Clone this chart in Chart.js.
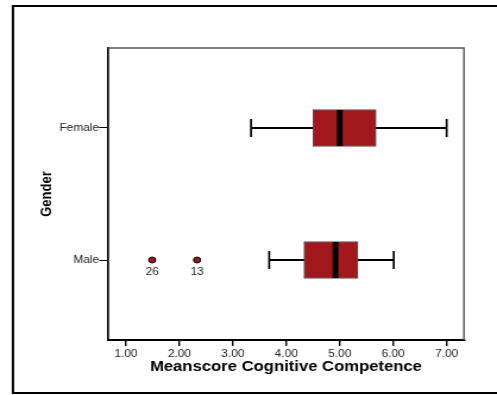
<!DOCTYPE html>
<html>
<head>
<meta charset="utf-8">
<script src="https://cdn.jsdelivr.net/npm/chart.js@4/dist/chart.umd.min.js"></script>
<style>
  body { margin: 0; background: #fff; overflow: hidden; }
  /* the original export is stretched sideways, so draw narrower and stretch the canvas */
  #boxChart { width: 497px !important; height: 395px !important; display: block; }
</style>
</head>
<body>
<canvas id="boxChart" width="418" height="395" style="width:497px;height:395px"></canvas>
<script>
// values
const genders = ['Female', 'Male'];
const whiskerLo = [3.34, 3.68];
const q1 = [4.50, 4.33];
const median = [5.00, 4.92];
const q3 = [5.68, 5.34];
const whiskerHi = [7.00, 6.01];

const outlierValues = [1.49, 2.33];
const outlierGroup = [1, 1];
const outlierLabels = ['26', '13'];

const xTicks = [1, 2, 3, 4, 5, 6, 7];

const boxRed = '#a0181b';
const font = "Arial, 'Liberation Sans', sans-serif";

// outer frame + top/right edge of the plot box
const framePlugin = {
  id: 'frame',
  beforeDraw(chart) {
    const c = chart.ctx;
    c.save();
    c.strokeStyle = '#000';
    c.lineWidth = 2;
    c.beginPath();
    c.moveTo(430, 6);
    c.lineTo(10.9, 6);
    c.lineTo(10.9, 393);
    c.lineTo(430, 393);
    c.stroke();
    c.restore();
  },
  afterDatasetsDraw(chart) {
    const a = chart.chartArea;
    const c = chart.ctx;
    c.save();
    c.strokeStyle = '#555';
    c.lineWidth = 1.4;
    c.beginPath();
    c.moveTo(a.left, a.top);
    c.lineTo(a.right, a.top);
    c.lineTo(a.right, a.bottom);
    c.stroke();

    // outlier case numbers
    c.fillStyle = '#222';
    c.font = '10px ' + font;
    c.textAlign = 'center';
    c.textBaseline = 'middle';
    const xs = chart.scales.x, ys = chart.scales.y;
    outlierValues.forEach((v, i) => {
      c.fillText(outlierLabels[i], xs.getPixelForValue(v), ys.getPixelForValue(outlierGroup[i]) + 12);
    });
    c.restore();
  }
};

const whiskerSets = genders.map((g, i) => ({
  type: 'line',
  data: [{ x: whiskerLo[i], y: i }, { x: whiskerHi[i], y: i }],
  borderColor: '#000',
  borderWidth: 2,
  pointRadius: 0,
  order: 4
}));

new Chart(document.getElementById('boxChart'), {
  type: 'bar',
  data: {
    datasets: [
      ...whiskerSets,
      {
        type: 'bar',
        indexAxis: 'y',
        data: genders.map((g, i) => ({ y: i, x: [q1[i], q3[i]] })),
        backgroundColor: boxRed,
        borderColor: '#555',
        borderWidth: 1,
        borderSkipped: false,
        barThickness: 37,
        order: 3
      },
      {
        type: 'scatter',
        data: genders.map((g, i) => ({ x: median[i], y: i })),
        pointStyle: 'line',
        rotation: 90,
        radius: 18,
        borderColor: '#000',
        borderWidth: 4.8,
        order: 2
      },
      {
        type: 'scatter',
        data: genders.flatMap((g, i) => [{ x: whiskerLo[i], y: i }, { x: whiskerHi[i], y: i }]),
        pointStyle: 'line',
        rotation: 90,
        radius: 9,
        borderColor: '#000',
        borderWidth: 1.7,
        order: 1
      },
      {
        type: 'scatter',
        data: outlierValues.map((v, i) => ({ x: v, y: outlierGroup[i] })),
        pointStyle: 'circle',
        radius: 3,
        backgroundColor: boxRed,
        borderColor: '#000',
        borderWidth: 1,
        order: 0
      }
    ]
  },
  options: {
    responsive: false,
    animation: false,
    devicePixelRatio: 1,
    layout: { padding: { left: 0, top: 48, right: 27.8, bottom: 0 } },
    plugins: {
      legend: { display: false },
      tooltip: { enabled: false }
    },
    scales: {
      x: {
        type: 'linear',
        position: 'bottom',
        offset: false,
        min: 0.663,
        max: 7.324,
        afterBuildTicks: s => { s.ticks = xTicks.map(v => ({ value: v })); },
        afterFit: s => { s.height = 55; },
        ticks: {
          callback: v => v.toFixed(2),
          color: '#222',
          font: { family: font, size: 10 },
          padding: 2,
          maxRotation: 0
        },
        grid: { offset: false, drawOnChartArea: false, tickLength: 6, color: '#000', lineWidth: 1.4 },
        border: { color: '#000', width: 2 },
        title: {
          display: true,
          text: 'Meanscore Cognitive Competence',
          color: '#000',
          font: { family: font, size: 14, weight: 'bold' },
          padding: { top: 0, bottom: 19 }
        }
      },
      y: {
        type: 'linear',
        reverse: true,
        offset: false,
        min: -0.606,
        max: 1.606,
        afterBuildTicks: s => { s.ticks = genders.map((g, i) => ({ value: i })); },
        afterFit: s => { s.width = 90.8; },
        ticks: {
          callback: v => genders[v],
          color: '#222',
          font: { family: font, size: 10 },
          padding: 0
        },
        grid: { offset: false, drawOnChartArea: false, tickLength: 7.5, color: '#000', lineWidth: 1 },
        border: { color: '#000', width: 1.7 },
        title: {
          display: true,
          text: 'Gender',
          color: '#000',
          font: { family: font, size: 13, weight: 'bold' },
          padding: { top: 32, bottom: 0 }
        }
      }
    }
  },
  plugins: [framePlugin]
});
</script>
</body>
</html>
